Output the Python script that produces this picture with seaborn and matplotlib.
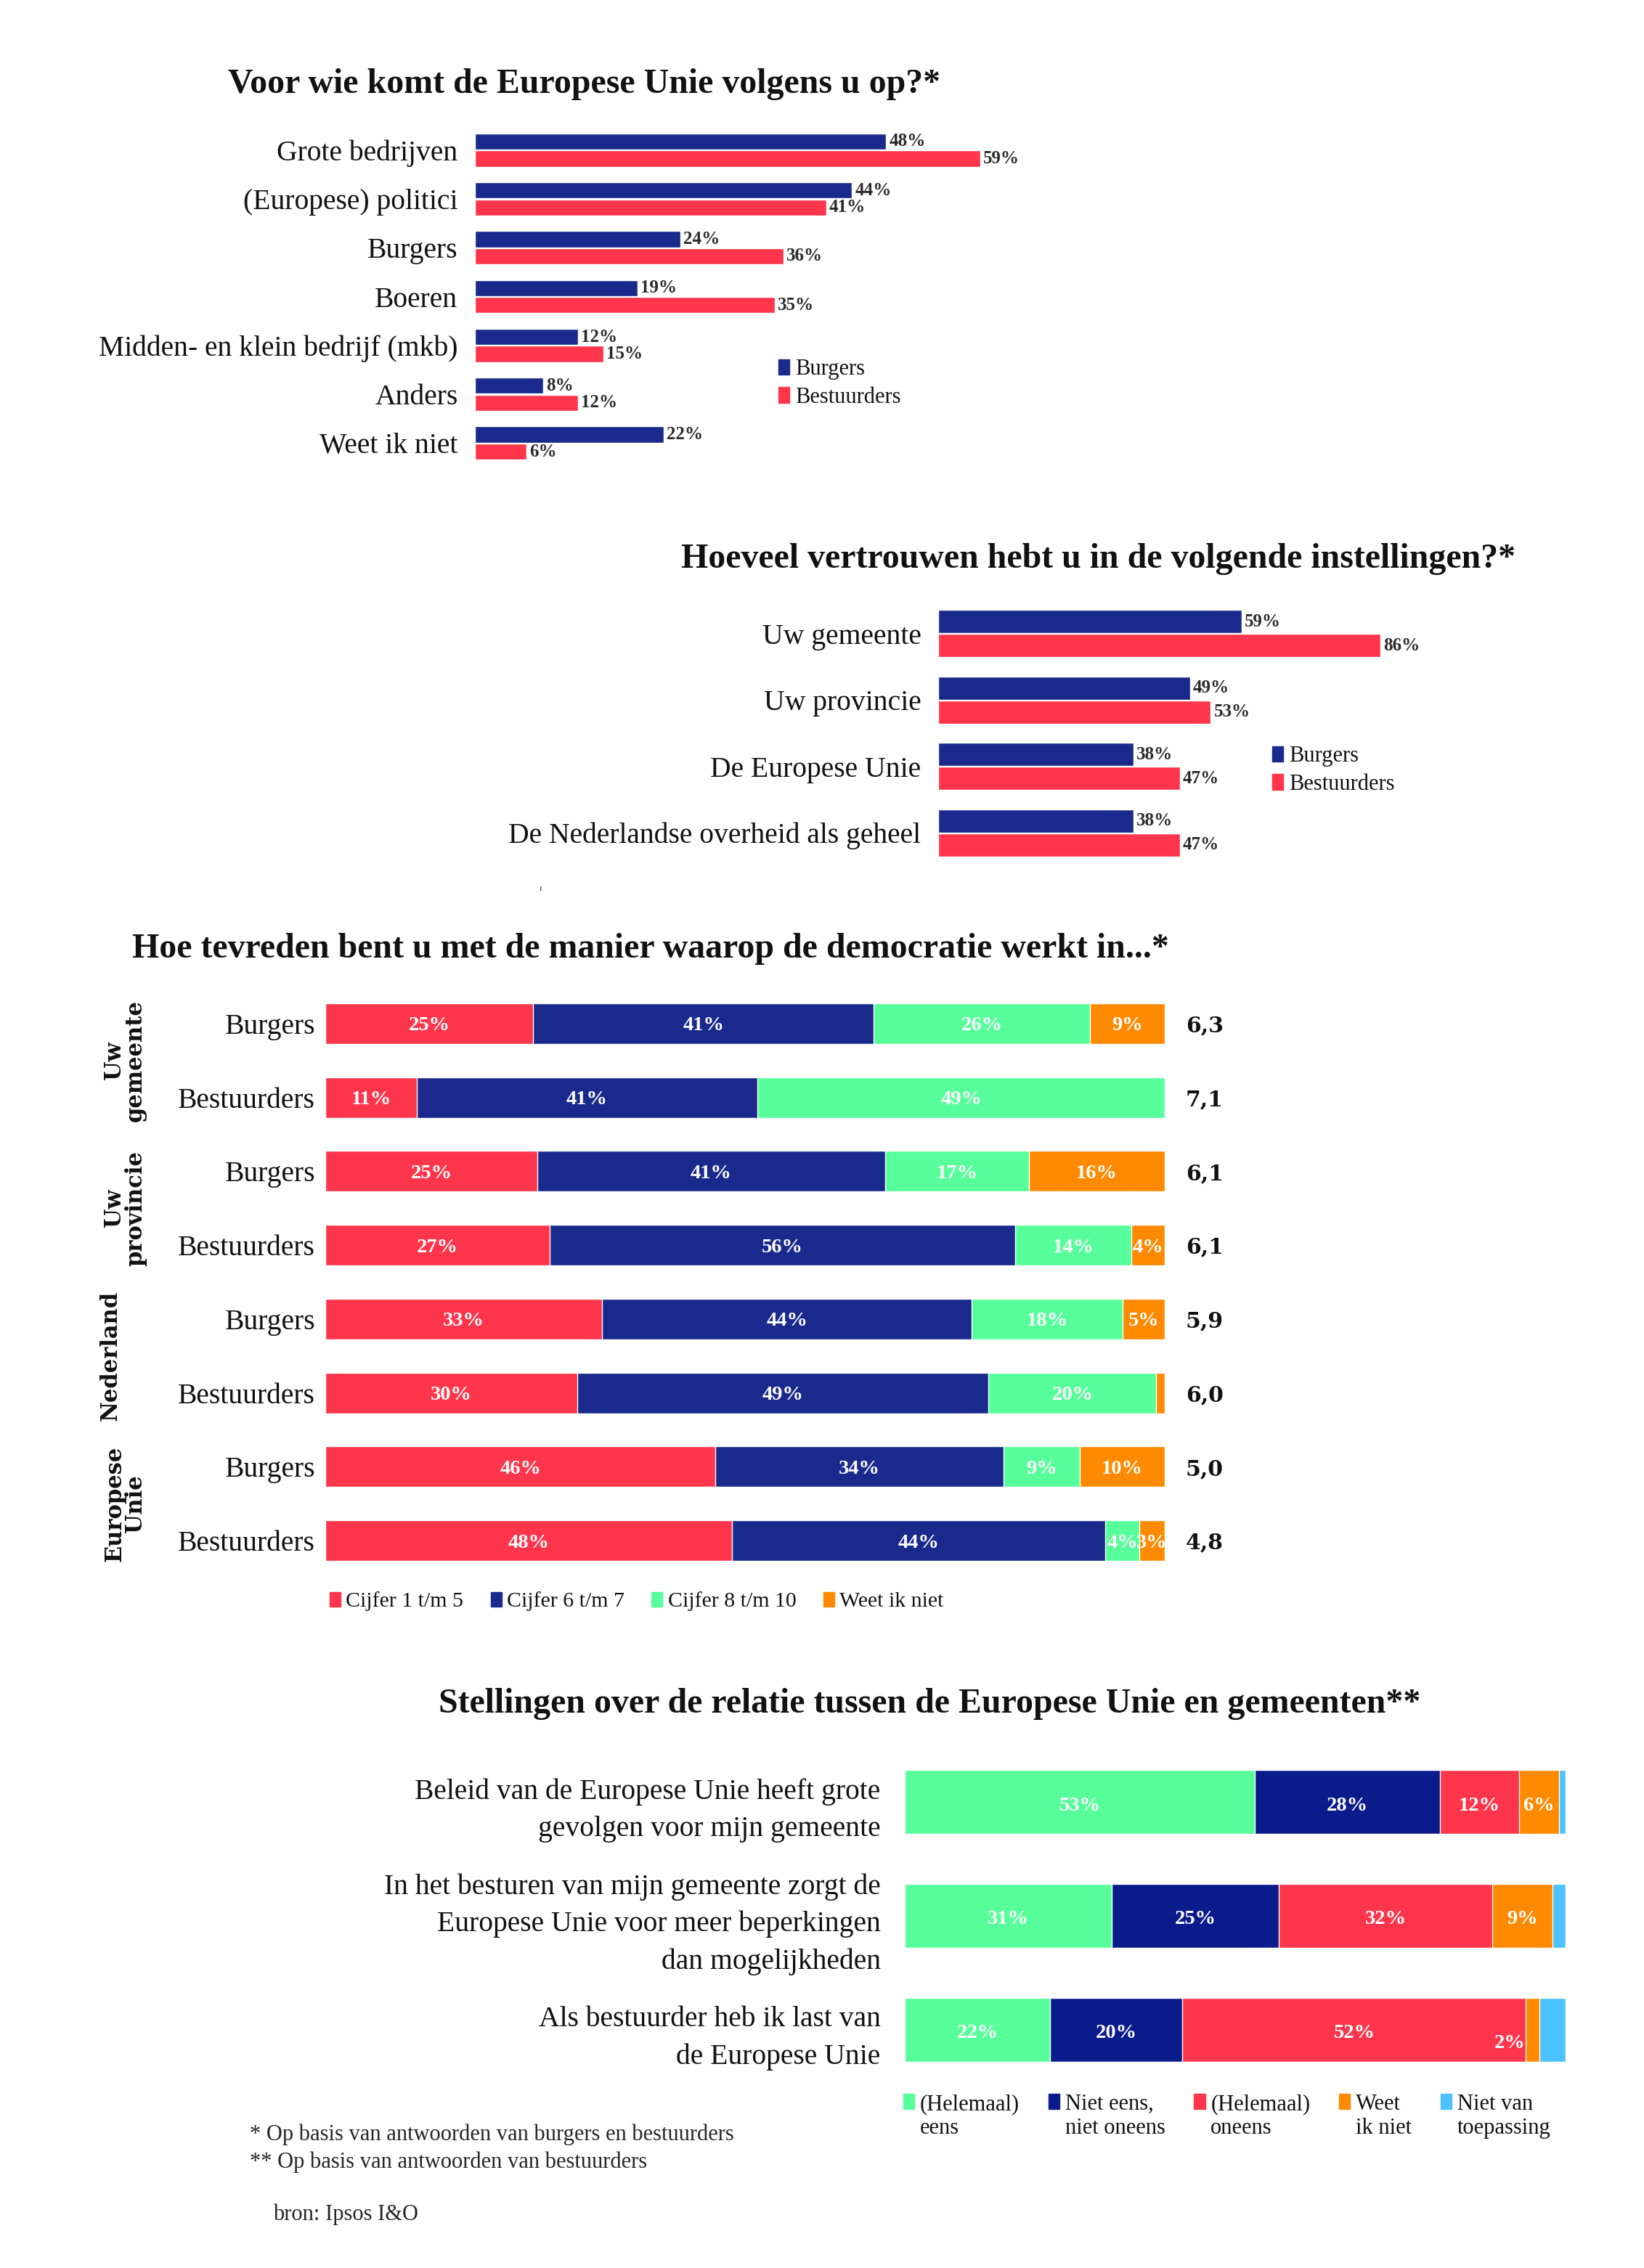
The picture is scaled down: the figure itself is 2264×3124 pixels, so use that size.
import numpy as np
import pandas as pd
import matplotlib.pyplot as plt
import seaborn as sns
from matplotlib.patches import Patch

# ==============================
# Peiling: Europese Unie en gemeenten (bron: Ipsos I&O)
# ==============================

W, H = 2264, 3124

# kleuren
BLAUW = '#1a2a8c'
ROOD = '#ff354b'
GROEN = '#57ff9b'
ORANJE = '#ff8a00'
LICHTBLAUW = '#4cc2ff'

# 1. Voor wie komt de EU op
cat1 = ['Grote bedrijven', '(Europese) politici', 'Burgers', 'Boeren',
        'Midden- en klein bedrijf (mkb)', 'Anders', 'Weet ik niet']
burgers1 = [48, 44, 24, 19, 12, 8, 22]
bestuurders1 = [59, 41, 36, 35, 15, 12, 6]

# 2. vertrouwen in instellingen
cat2 = ['Uw gemeente', 'Uw provincie', 'De Europese Unie',
        'De Nederlandse overheid als geheel']
burgers2 = [59, 49, 38, 38]
bestuurders2 = [86, 53, 47, 47]

# 3. tevredenheid over de democratie
groepen3 = ['Uw\ngemeente', 'Uw\nprovincie', 'Nederland', 'Europese\nUnie']
rijen3 = ['Burgers', 'Bestuurders'] * 4
cijfer_1_5 = [25, 11, 25, 27, 33, 30, 46, 48]
cijfer_6_7 = [41, 41, 41, 56, 44, 49, 34, 44]
cijfer_8_10 = [26, 49, 17, 14, 18, 20, 9, 4]
weet_niet3 = [9, 0, 16, 4, 5, 1, 10, 3]
rapportcijfer = ['6,3', '7,1', '6,1', '6,1', '5,9', '6,0', '5,0', '4,8']
legenda3 = ['Cijfer 1 t/m 5', 'Cijfer 6 t/m 7', 'Cijfer 8 t/m 10', 'Weet ik niet']

# 4. stellingen (bestuurders)
stellingen = ['Beleid van de Europese Unie heeft grote\ngevolgen voor mijn gemeente',
              'In het besturen van mijn gemeente zorgt de\nEuropese Unie voor meer beperkingen\ndan mogelijkheden',
              'Als bestuurder heb ik last van\nde Europese Unie']
eens = [53, 31, 22]
neutraal = [28, 25, 20]
oneens = [12, 32, 52]
weet_niet4 = [6, 9, 2]
nvt = [1, 2, 4]
legenda4 = ['(Helemaal)\neens', 'Niet eens,\nniet oneens', '(Helemaal)\noneens',
            'Weet\nik niet', 'Niet van\ntoepassing']

sns.set_theme(style='white')
plt.rcParams['font.family'] = ['Liberation Serif', 'DejaVu Serif']

fig = plt.figure(figsize=(W / 100, H / 100), dpi=100, facecolor='white')


def fx(x):
    return x / W


def fy(y):
    return 1 - y / H


def px_ax(x0, y0, x1, y1):
    return fig.add_axes([x0 / W, 1 - y1 / H, (x1 - x0) / W, (y1 - y0) / H])


def kaal(ax, pad, size=28.5):
    ax.set_xlabel('')
    ax.set_ylabel('')
    ax.set_xticks([])
    sns.despine(ax=ax, left=True, bottom=True)
    ax.tick_params(axis='y', length=0, pad=pad, labelsize=size, labelcolor='#111')
    ax.set_xlim(0, 100)


TITEL = dict(ha='center', va='baseline', fontsize=34.5, fontweight='bold', color='#111')

# ---------- grafiek 1 ----------
fig.text(fx(805), fy(128), 'Voor wie komt de Europese Unie volgens u op?*', **TITEL)
ax1 = px_ax(654, 173, 1834, 644)
df1 = pd.DataFrame({'cat': cat1 * 2, 'pct': burgers1 + bestuurders1,
                    'groep': ['Burgers'] * 7 + ['Bestuurders'] * 7})
sns.barplot(data=df1, y='cat', x='pct', hue='groep', orient='h', palette=[BLAUW, ROOD],
            width=0.70, gap=0.05, saturation=1, legend=False, ax=ax1)
for c in ax1.containers:
    ax1.bar_label(c, fmt='{:.0f}%', padding=3, fontsize=18, fontweight='bold', color='#2b2b2b')
kaal(ax1, 17)

hnd = [Patch(color=BLAUW, label='Burgers'), Patch(color=ROOD, label='Bestuurders')]
LEG = dict(frameon=False, borderpad=0, borderaxespad=0, handlelength=0.5,
           handleheight=0.7, handletextpad=0.25, labelcolor='#111')
fig.legend(handles=hnd, loc='center left', bbox_to_anchor=(fx(1072), fy(528)),
           fontsize=22, labelspacing=0.3, **LEG)

# ---------- grafiek 2 ----------
fig.text(fx(1513), fy(782), 'Hoeveel vertrouwen hebt u in de volgende instellingen?*', **TITEL)
ax2 = px_ax(1292, 827, 2000, 1193)
df2 = pd.DataFrame({'cat': cat2 * 2, 'pct': burgers2 + bestuurders2,
                    'groep': ['Burgers'] * 4 + ['Bestuurders'] * 4})
sns.barplot(data=df2, y='cat', x='pct', hue='groep', orient='h', palette=[BLAUW, ROOD],
            width=0.72, gap=0.04, saturation=1, legend=False, ax=ax2)
for c in ax2.containers:
    ax2.bar_label(c, fmt='{:.0f}%', padding=3, fontsize=18, fontweight='bold', color='#2b2b2b')
kaal(ax2, 17)
fig.legend(handles=hnd, loc='center left', bbox_to_anchor=(fx(1752), fy(1061)),
           fontsize=22, labelspacing=0.3, **LEG)
fig.text(fx(744), fy(1224), 'ı', fontsize=9, ha='center', va='center')

# ---------- grafiek 3 ----------
fig.text(fx(896), fy(1319), 'Hoe tevreden bent u met de manier waarop de democratie werkt in...*', **TITEL)
ax3 = px_ax(448, 1359, 1604, 2173)
waarden3 = np.array([cijfer_1_5, cijfer_6_7, cijfer_8_10, weet_niet3], dtype=float)
kleuren3 = [ROOD, BLAUW, GROEN, ORANJE]
aandeel3 = waarden3 / waarden3.sum(axis=0) * 100
cum3 = aandeel3.cumsum(axis=0)
ids3 = [f'r{i}' for i in range(len(rijen3))]
for k in range(len(kleuren3) - 1, -1, -1):
    sns.barplot(x=cum3[k], y=ids3, order=ids3, orient='h', color=kleuren3[k],
                saturation=1, width=0.55, ax=ax3)
ax3.set_yticks(range(len(rijen3)))
ax3.set_yticklabels(rijen3)
kaal(ax3, 10)
for k in range(len(kleuren3)):
    for i in range(len(rijen3)):
        if waarden3[k, i] >= 2:
            mid = cum3[k, i] - aandeel3[k, i] / 2
            ax3.text(mid, i + 0.03, f'{waarden3[k, i]:.0f}%', ha='center', va='center',
                     color='white', fontsize=20.5, fontweight='bold', clip_on=True)
for i, s in enumerate(rapportcijfer):
    ax3.text(102.5, i + 0.03, s, ha='left', va='center', fontsize=21.5, fontweight='bold',
             family=['DejaVu Serif'], color='#111', clip_on=False)
for g, naam in enumerate(groepen3):
    yc = (1359 + (2 * g + 1) * 101.7)
    xc = 152 if '\n' not in naam else 172
    fig.text(fx(xc), fy(yc), naam, rotation=90, ha='center', va='center', multialignment='center',
             fontsize=22, fontweight='bold', family=['DejaVu Serif'], linespacing=0.9, color='#111')
hnd3 = [Patch(color=c, label=l) for c, l in zip(kleuren3, legenda3)]
fig.legend(handles=hnd3, loc='center left', bbox_to_anchor=(fx(454), fy(2206)), ncol=4,
           fontsize=21.5, columnspacing=1.25, **LEG)

# ---------- grafiek 4 ----------
fig.text(fx(1280), fy(2359), 'Stellingen over de relatie tussen de Europese Unie en gemeenten**', **TITEL)
ax4 = px_ax(1246, 2404, 2156, 2874)
waarden4 = np.array([eens, neutraal, oneens, weet_niet4, nvt], dtype=float)
kleuren4 = [GROEN, '#0a1c8c', ROOD, ORANJE, LICHTBLAUW]
aandeel4 = waarden4 / waarden4.sum(axis=0) * 100
cum4 = aandeel4.cumsum(axis=0)
ids4 = [f's{i}' for i in range(len(stellingen))]
for k in range(len(kleuren4) - 1, -1, -1):
    sns.barplot(x=cum4[k], y=ids4, order=ids4, orient='h', color=kleuren4[k],
                saturation=1, width=0.56, ax=ax4)
ax4.set_yticks(range(len(stellingen)))
ax4.set_yticklabels(stellingen)
kaal(ax4, 24)
for t in ax4.get_yticklabels():
    t.set_linespacing(1.5)
for k in range(len(kleuren4) - 1):
    for i in range(len(stellingen)):
        if waarden4[k, i] >= 2:
            mid = cum4[k, i] - aandeel4[k, i] / 2
            klein = waarden4[k, i] < 3
            ax4.text(mid - (3.5 if klein else 0), i + (0.12 if klein else 0.03),
                     f'{waarden4[k, i]:.0f}%', ha='center', va='center', color='white',
                     fontsize=20.5, fontweight='bold', clip_on=True)
hnd4 = [Patch(color=c, label=l) for c, l in zip(kleuren4, legenda4)]
leg4 = fig.legend(handles=hnd4, loc='upper left', bbox_to_anchor=(fx(1244), fy(2884)), ncol=5,
                  fontsize=22, columnspacing=1.3, **LEG)
# vierkantjes op de eerste regel zetten
for kolom in leg4._legend_handle_box.get_children():
    for rij in kolom.get_children():
        rij.align = 'top'

# voetnoten
fig.text(fx(344), fy(2940), '* Op basis van antwoorden van burgers en bestuurders', fontsize=22, va='center')
fig.text(fx(344), fy(2978), '** Op basis van antwoorden van bestuurders', fontsize=22, va='center')
fig.text(fx(376), fy(3050), 'bron: Ipsos I&O', fontsize=22, va='center')

fig.savefig('out.png', dpi=100)
